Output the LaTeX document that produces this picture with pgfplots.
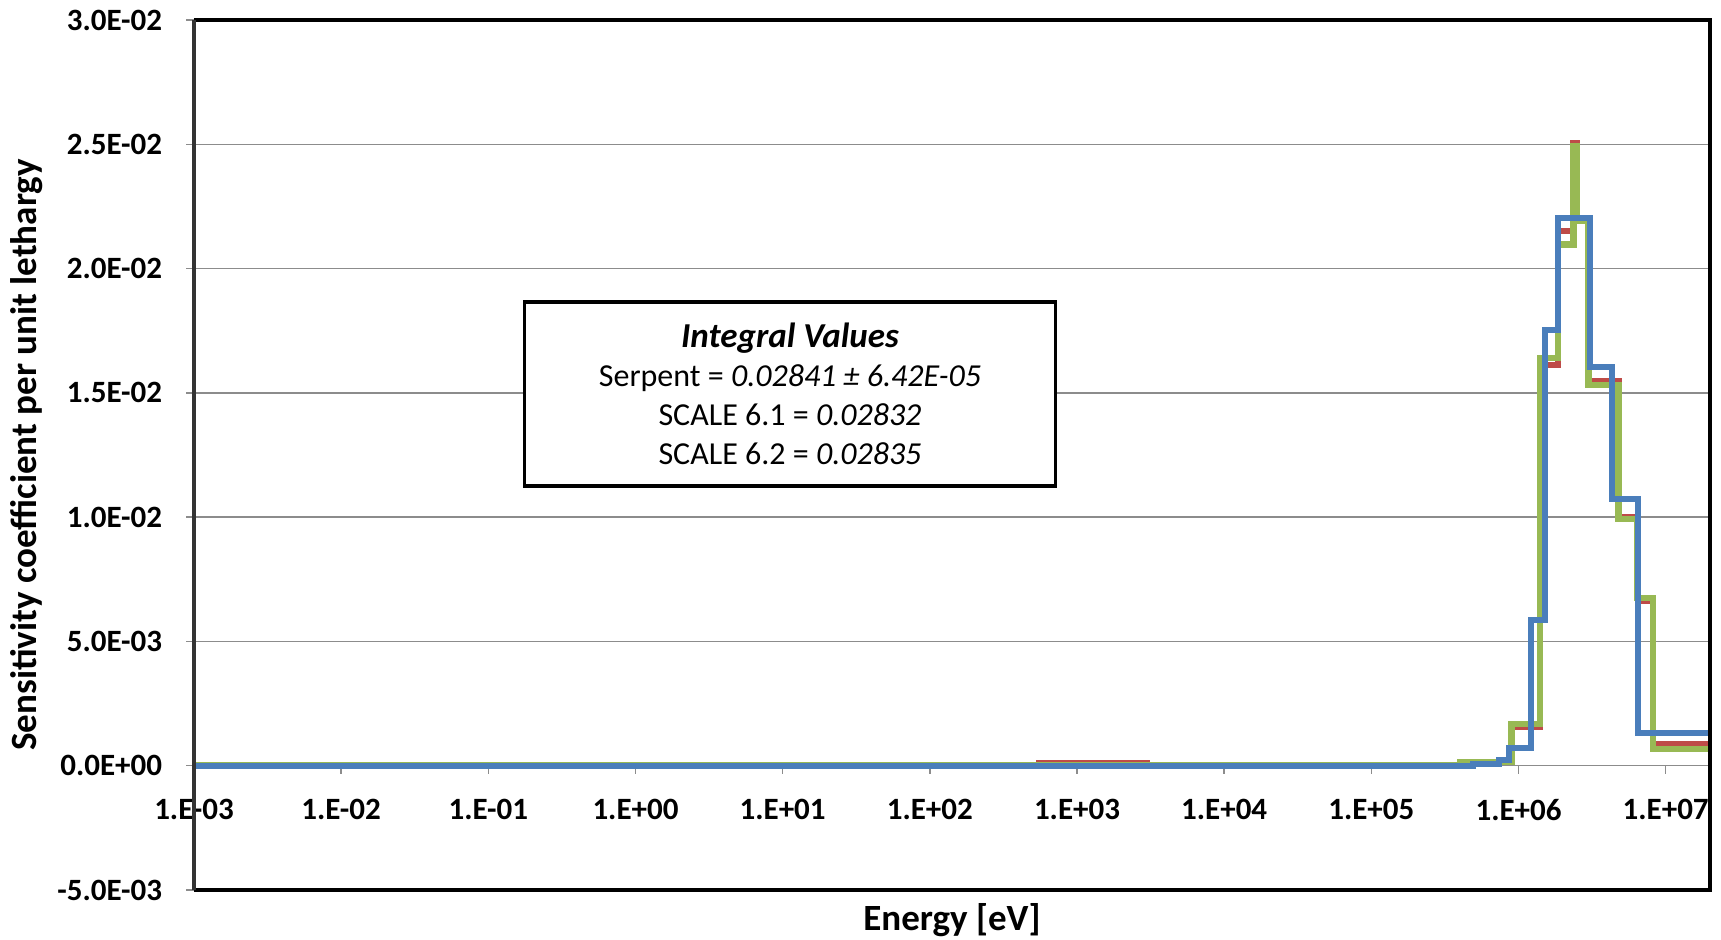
\documentclass[border=0pt]{standalone}
\usepackage{fontspec}
\setmainfont{Carlito}
\usepackage{pgfplots}
\pgfplotsset{compat=1.18}
\definecolor{serp}{HTML}{4A7EBB}
\definecolor{sa}{HTML}{BE4B48}
\definecolor{sb}{HTML}{98B954}
\definecolor{gridc}{HTML}{8C8C8C}
\begin{document}
\begin{tikzpicture}
\path[use as bounding box] (-97pt,-24.5pt) rectangle (763.5pt,445pt);
\begin{axis}[
  at={(0,0)}, anchor=south west,
  scale only axis, width=758pt, height=435pt,
  xmode=log, xmin=1e-3, xmax=2e7,
  ymin=-0.005, ymax=0.03,
  axis x line=middle, axis y line=left,
  axis line style={-, draw=gridc, line width=0.7pt},
  hide obscured x ticks=false,
  xminorticks=false,
  xtick={1e-3,1e-2,1e-1,1,1e1,1e2,1e3,1e4,1e5,1e6,1e7},
  xticklabels={\textbf{1.E-03},\textbf{1.E-02},\textbf{1.E-01},\textbf{1.E+00},\textbf{1.E+01},\textbf{1.E+02},\textbf{1.E+03},\textbf{1.E+04},\textbf{1.E+05},\textbf{1.E+06},\textbf{1.E+07}},
  ytick={-0.005,0,0.005,0.01,0.015,0.02,0.025,0.03},
  yticklabels={\textbf{-5.0E-03},\textbf{0.0E+00},\textbf{5.0E-03},\textbf{1.0E-02},\textbf{1.5E-02},\textbf{2.0E-02},\textbf{2.5E-02},\textbf{3.0E-02}},
  scaled y ticks=false,
  tick align=outside,
  major tick length=4pt,
  tick style={draw=gridc, line width=0.7pt},
  tick label style={font=\fontsize{15.5}{18}\selectfont\bfseries, text=black},
  xticklabel style={anchor=center, yshift=-18pt},
  yticklabel style={anchor=east, inner sep=0pt, xshift=-11.8pt},
  ymajorgrids,
  grid style={draw=gridc, line width=0.7pt},
  xlabel={\textbf{Energy [eV]}},
  ylabel={\textbf{Sensitivity coefficient per unit lethargy}},
  label style={font=\fontsize{18.5}{21}\selectfont\bfseries},
  xlabel style={at={(axis description cs:0.5,-0.0345)}, anchor=center},
  ylabel style={at={(axis description cs:-0.1102,0.5)}, anchor=center, rotate=0},
  clip=true,
]
% SCALE 6.1 (red)
\addplot[const plot, no marks, color=sa, line width=3pt] coordinates {
(1e-3,0) (550,1.0e-4) (3000,0) (4e5,1.5e-4) (9e5,1.55e-3) (1.4e6,1.612e-2)
(1.85e6,2.15e-2) (2.354e6,2.505e-2) (2.479e6,2.2e-2) (3e6,1.548e-2)
(4.8e6,1.0e-2) (6.434e6,6.62e-3) (8.187e6,8.7e-4) (2e7,8.7e-4)};
% SCALE 6.2 (green)
\addplot[const plot, no marks, color=sb, line width=3.3pt] coordinates {
(1e-3,0) (4e5,1.5e-4) (9e5,1.68e-3) (1.4e6,1.641e-2) (1.85e6,2.096e-2)
(2.354e6,2.49e-2) (2.479e6,2.193e-2) (3e6,1.531e-2) (4.8e6,9.93e-3)
(6.434e6,6.74e-3) (8.187e6,6.7e-4) (2e7,6.7e-4)};
% Serpent (blue)
\addplot[const plot, no marks, color=serp, line width=3pt] coordinates {
(1e-3,0) (4.87e5,5e-5) (7.4e5,2.1e-4) (8.6e5,7.0e-4) (1.21e6,5.85e-3)
(1.51e6,1.753e-2) (1.86e6,2.203e-2) (3.05e6,1.604e-2) (4.35e6,1.074e-2)
(6.49e6,1.33e-3) (2e7,1.33e-3)};
\end{axis}
\draw[black, line width=1.6pt] (0,435pt) -- (758pt,435pt) -- (758pt,0) -- (0,0);
\draw[black!80, line width=1.6pt] (0,0) -- (0,435pt);
\node[draw=black, line width=1.6pt, fill=white, minimum width=265.7pt, minimum height=92pt,
      align=center, font=\fontsize{16}{19.4}\selectfont] at (298pt,248pt)
  {{\fontsize{17.5}{19.4}\selectfont\bfseries\itshape Integral Values}\\
   Serpent = \textit{0.02841 ± 6.42E-05}\\
   SCALE 6.1 = \textit{0.02832}\\
   SCALE 6.2 = \textit{0.02835}};
\end{tikzpicture}
\end{document}
